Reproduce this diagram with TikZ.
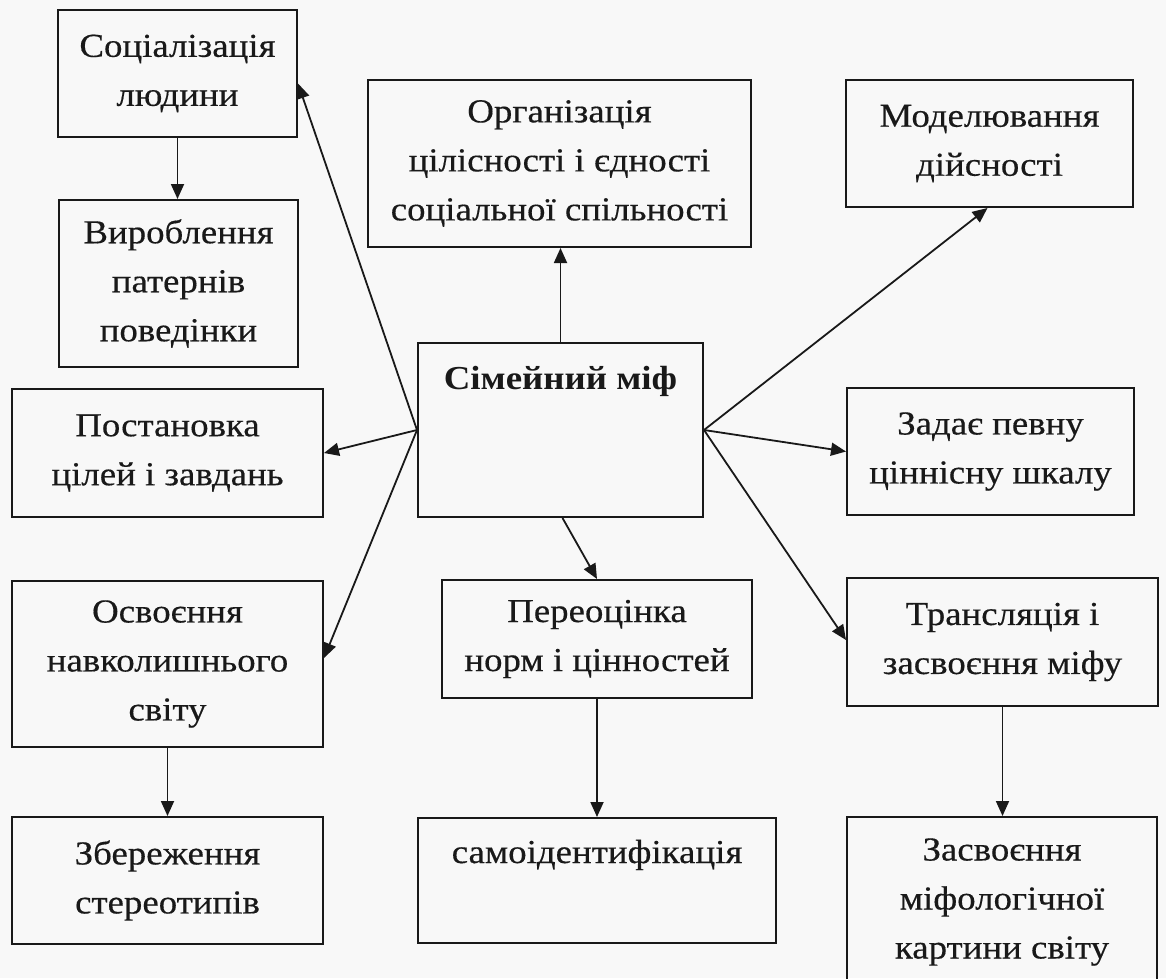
\documentclass[tikz,border=0pt]{standalone}
\usepackage{fontspec}
\setmainfont{Liberation Serif}[FakeStretch=1.1, UprightFeatures={FakeBold=0.4}]
\usetikzlibrary{arrows.meta}
\definecolor{paper}{RGB}{248,248,248}
\definecolor{ink}{RGB}{25,25,25}
\begin{document}
\begin{tikzpicture}[x=1pt,y=-1pt,
  box/.style={draw=ink, text=ink, line width=2pt, inner sep=0pt, align=center,
    font=\fontsize{33.5}{49}\selectfont},
  arr/.style={draw=ink, line width=1.8pt, -{Triangle[length=15pt,width=13pt]}}]
\fill[paper] (0,0) rectangle (1166,978);
\clip (0,0) rectangle (1166,978);
\node[box, minimum width=239pt, minimum height=127pt] (B1) at (177.5,73.5) {Соціалізація\\людини};
\node[box, minimum width=239pt, minimum height=167pt] (B2) at (178.5,283.5) {Вироблення\\патернів\\поведінки};
\node[box, minimum width=383pt, minimum height=167pt] (B3) at (559.5,163.5) {Організація\\цілісності і єдності\\соціальної спільності};
\node[box, minimum width=287pt, minimum height=127pt] (B4) at (989.5,143.5) {Моделювання\\дійсності};
\node[box, minimum width=285pt, text height=46pt, text depth=128pt, anchor=north] (B5) at (560.5,342) {\bfseries Сімейний міф};
\node[box, minimum width=311pt, minimum height=128pt] (B6) at (167.5,453) {Постановка\\цілей і завдань};
\node[box, minimum width=287pt, minimum height=127pt] (B7) at (990.5,451.5) {Задає певну\\ціннісну шкалу};
\node[box, minimum width=311pt, minimum height=166pt] (B8) at (167.5,664) {Освоєння\\навколишнього\\світу};
\node[box, minimum width=310pt, minimum height=118pt] (B9) at (597,639) {Переоцінка\\норм і цінностей};
\node[box, minimum width=311pt, minimum height=128pt] (B10) at (1002.5,642) {Трансляція і\\засвоєння міфу};
\node[box, minimum width=311pt, minimum height=127pt] (B11) at (167.5,880.5) {Збереження\\стереотипів};
\node[box, minimum width=358pt, text height=45pt, text depth=80pt, anchor=north] (B12) at (597,817) {самоідентифікація};
\node[box, minimum width=310pt, minimum height=170pt] (B13) at (1002,902) {Засвоєння\\міфологічної\\картини світу};
\draw[arr] (B5.west) -- ([yshift=-10pt]B1.east);
\draw[arr] (B5.west) -- (B6.east);
\draw[arr] (B5.west) -- ([yshift=6pt]B8.east);
\draw[arr] (B5.north) -- (B5.north |- B3.south);
\draw[arr] (B5.east) -- ([xshift=-2pt]B4.south);
\draw[arr] (B5.east) -- (B7.west);
\draw[arr] (B5.east) -- ([yshift=2pt]B10.west);
\draw[arr] ([xshift=2pt]B5.south) -- (B9.north);
\draw[arr] (B1.south) -- (B1.south |- B2.north);
\draw[arr] (B8.south) -- (B11.north);
\draw[arr] (B9.south) -- (B12.north);
\draw[arr] (B10.south) -- (B10.south |- B13.north);
\end{tikzpicture}
\end{document}
